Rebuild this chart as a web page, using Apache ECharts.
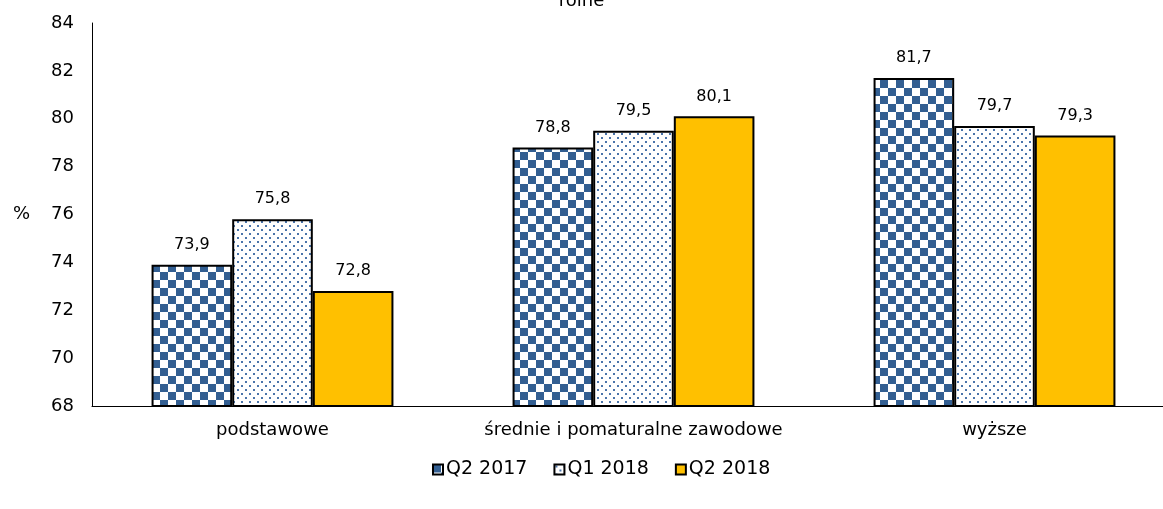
<!DOCTYPE html>
<html>
<head>
<meta charset="utf-8">
<script src="https://cdn.jsdelivr.net/npm/echarts@6/dist/echarts.min.js"></script>
<style>
  html, body { margin: 0; padding: 0; background: #fff; }
  #chart { width: 1163px; height: 509px; }
</style>
</head>
<body>
<div id="chart"></div>
<script>
const categories = ['podstawowe', 'średnie i pomaturalne zawodowe', 'wyższe']
const seriesNames = ['Q2 2017', 'Q1 2018', 'Q2 2018']
const q2_2017 = [73.9, 78.8, 81.7]
const q1_2018 = [75.8, 79.5, 79.7]
const q2_2018 = [72.8, 80.1, 79.3]
const yTicks = { min: 68, max: 84, interval: 2 }

// wzory wypełnienia
const makeChecker = () => {
  const c = document.createElement('canvas')
  c.width = 16; c.height = 16
  const ctx = c.getContext('2d')
  ctx.fillStyle = '#ffffff'
  ctx.fillRect(0, 0, 16, 16)
  ctx.fillStyle = '#335f92'
  ctx.fillRect(0, 0, 8, 8)
  ctx.fillRect(8, 8, 8, 8)
  return c
}
const makeDots = () => {
  const c = document.createElement('canvas')
  c.width = 8; c.height = 8
  const ctx = c.getContext('2d')
  ctx.fillStyle = '#ffffff'
  ctx.fillRect(0, 0, 8, 8)
  ctx.fillStyle = '#4a74aa'
  ctx.fillRect(1, 1, 2, 2)
  ctx.fillRect(5, 5, 2, 2)
  return c
}

const fills = [
  { image: makeChecker(), repeat: 'repeat' },
  { image: makeDots(), repeat: 'repeat' },
  '#ffc000'
]
const data = [q2_2017, q1_2018, q2_2018]

const chart = echarts.init(document.getElementById('chart'))
const font = 'DejaVu Sans'

chart.setOption({
  animation: false,
  textStyle: { fontFamily: font },
  title: {
    text: 'rolne',
    left: 'center',
    top: -13,
    textStyle: { fontFamily: font, fontSize: 18, fontWeight: 'normal', color: '#000' }
  },
  legend: {
    top: 455,
    left: 427,
    itemWidth: 10,
    itemHeight: 10,
    itemGap: 26,
    icon: 'rect',
    textStyle: { fontFamily: font, fontSize: 19, color: '#000', padding: [0, 0, 0, -2] },
    data: seriesNames
  },
  grid: { left: 92, width: 1083, top: 23, bottom: 103, containLabel: false, outerBoundsMode: 'none' },
  xAxis: {
    type: 'category',
    data: categories,
    axisLine: { lineStyle: { color: '#000', width: 1 } },
    axisTick: { show: false },
    axisLabel: { color: '#000', fontFamily: font, fontSize: 18, margin: 15, interval: 0, hideOverlap: false }
  },
  yAxis: {
    type: 'value',
    min: yTicks.min,
    max: yTicks.max,
    interval: yTicks.interval,
    name: '%',
    nameLocation: 'middle',
    nameRotate: 0,
    nameGap: 62,
    nameTextStyle: { color: '#000', fontFamily: font, fontSize: 18 },
    axisLine: { show: true, lineStyle: { color: '#000', width: 1 } },
    axisTick: { show: false },
    splitLine: { show: false },
    axisLabel: { color: '#000', fontFamily: font, fontSize: 18, margin: 18 }
  },
  series: seriesNames.map((name, i) => ({
    name,
    type: 'bar',
    data: data[i],
    barGap: '0%',
    barCategoryGap: '33%',
    itemStyle: { color: fills[i], borderColor: '#000', borderWidth: 2 },
    label: {
      show: true,
      position: 'top',
      distance: 12,
      color: '#000',
      fontFamily: font,
      fontSize: 16,
      formatter: p => p.value.toFixed(1).replace('.', ',')
    }
  }))
})
</script>
</body>
</html>
